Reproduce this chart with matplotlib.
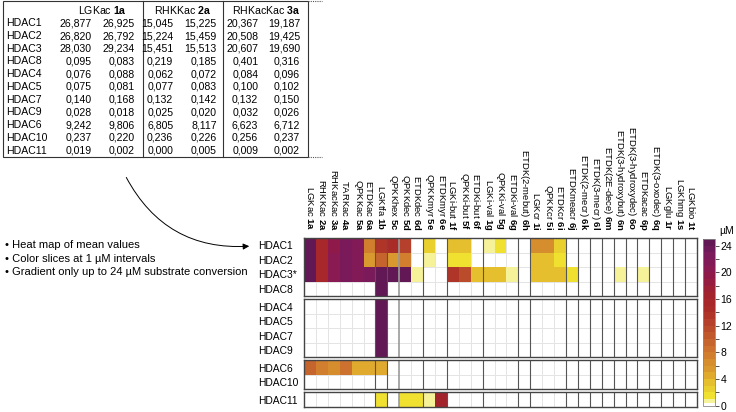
import numpy as np
import matplotlib.pyplot as plt
from matplotlib.colors import ListedColormap, BoundaryNorm, LinearSegmentedColormap
from matplotlib.patches import Rectangle, FancyArrowPatch
from matplotlib.cm import ScalarMappable
from matplotlib.ticker import FixedLocator

plt.rcParams['font.family'] = ['Liberation Sans', 'DejaVu Sans']
plt.rcParams['mathtext.fontset'] = 'custom'
plt.rcParams['mathtext.rm'] = 'Liberation Sans'
plt.rcParams['mathtext.bf'] = 'Liberation Sans:bold'

# ---- table data (duplicate measurements, uM) ----
table_enzymes = ['HDAC1', 'HDAC2', 'HDAC3', 'HDAC8', 'HDAC4', 'HDAC5',
                 'HDAC7', 'HDAC9', 'HDAC6', 'HDAC10', 'HDAC11']
table_headers = ['LGKac $\\mathbf{1a}$', 'RHKKac $\\mathbf{2a}$', 'RHKacKac $\\mathbf{3a}$']
conv_1a = [(26.877, 26.925), (26.820, 26.792), (28.030, 29.234), (0.095, 0.083),
           (0.076, 0.088), (0.075, 0.081), (0.140, 0.168), (0.028, 0.018),
           (9.242, 9.806), (0.237, 0.220), (0.019, 0.002)]
conv_2a = [(15.045, 15.225), (15.224, 15.459), (15.451, 15.513), (0.219, 0.185),
           (0.062, 0.072), (0.077, 0.083), (0.132, 0.142), (0.025, 0.020),
           (6.805, 8.117), (0.236, 0.226), (0.000, 0.005)]
conv_3a = [(20.367, 19.187), (20.508, 19.425), (20.607, 19.690), (0.401, 0.316),
           (0.084, 0.096), (0.100, 0.102), (0.132, 0.150), (0.032, 0.026),
           (6.623, 6.712), (0.256, 0.237), (0.009, 0.002)]

# ---- heat map data (mean conversion, uM) ----
substrates = ['LGKac 1a', 'RHKKac 2a', 'RHKacKac 3a', 'TARKac 4a', 'QPKKac 5a', 'ETDKac 6a',
              'LGKtfa 1b', 'QPKKhex 5c', 'QPKKdec 5d', 'ETDKdec 6d', 'QPKKmyr 5e', 'ETDKmyr 6e',
              'LGKi-but 1f', 'QPKKi-but 5f', 'ETDKi-but 6f', 'LGKi-val 1g', 'QPKKi-val 5g',
              'ETDKi-val 6g', 'ETDK(2-mebut) 6h', 'LGKcr 1i', 'QPKKcr 5i', 'ETDKcr 6i',
              'ETDKmeacr 6j', 'ETDK(2-mecr) 6k', 'ETDK(3-mecr) 6l', 'ETDK(2E-dece) 6m',
              'ETDK(3-hydroxybut) 6n', 'ETDK(3-hydroxydec) 6o', 'ETDKacac 6p',
              'ETDK(3-oxodec) 6q', 'LGKglu 1r', 'LGKhmg 1s', 'LGKbio 1t']

class1_names = ['HDAC1', 'HDAC2', 'HDAC3*', 'HDAC8']
class1_values = [
    [26.9, 15.1, 19.8, 22.5, 21.0, 7.5, 13.5, 14.0, 12.5, 0, 2.5, 0, 3.0, 3.0, 0, 0.7, 1.5, 0,
     0, 6.0, 6.0, 2.5, 0, 0, 0, 0, 0, 0, 0, 0, 0, 0, 0],
    [26.8, 15.3, 20.0, 22.5, 21.0, 5.0, 9.5, 5.0, 7.0, 0, 0.7, 0, 1.5, 1.5, 0, 0, 0, 0,
     0, 3.0, 3.0, 1.5, 0, 0, 0, 0, 0, 0, 0, 0, 0, 0, 0],
    [28.6, 15.5, 20.1, 22.5, 21.0, 22.5, 25.5, 25.5, 24.0, 0.7, 0, 0, 13.5, 11.0, 3.5, 3.5, 3.5, 0.7,
     0, 3.0, 3.0, 3.0, 1.5, 0, 0, 0, 0.7, 0, 0.7, 0, 0, 0, 0],
    [0.09, 0.2, 0.36, 0, 0, 0, 25.5, 0, 0, 0, 0, 0, 0, 0, 0, 0, 0, 0,
     0, 0, 0, 0, 0, 0, 0, 0, 0, 0, 0, 0, 0, 0, 0],
]
class2a_names = ['HDAC4', 'HDAC5', 'HDAC7', 'HDAC9']
class2a_values = [
    [0.08, 0.07, 0.09, 0, 0, 0, 24.0] + [0] * 26,
    [0.08, 0.08, 0.10, 0, 0, 0, 24.0] + [0] * 26,
    [0.15, 0.14, 0.14, 0, 0, 0, 24.0] + [0] * 26,
    [0.02, 0.02, 0.03, 0, 0, 0, 24.0] + [0] * 26,
]
class2b_names = ['HDAC6', 'HDAC10']
class2b_values = [
    [9.5, 7.5, 6.7, 8.0, 4.5, 4.0, 4.5] + [0] * 26,
    [0.23, 0.23, 0.25, 0, 0, 0, 0] + [0] * 26,
]
class4_names = ['HDAC11']
class4_values = [
    [0.01, 0.0, 0.01, 0, 0, 0, 1.5, 0, 1.5, 1.5, 0.7, 16.5] + [0] * 21,
]

# separators between substrate groups
dark_edges = [6, 7, 10, 12, 15, 18, 19, 22, 23, 24, 25, 26, 27, 28, 29, 30, 31, 32]
grey_edges = [8]
light_edges = [1, 2, 3, 4, 5, 9, 11, 13, 14, 16, 17, 20, 21]

# ---- colour map: 1 uM slices, white below detection ----
grad = LinearSegmentedColormap.from_list('conv', [
    (0.0, '#f2e830'), (2 / 24, '#e8c82e'), (4 / 24, '#dca02e'), (6 / 24, '#d4862e'),
    (8 / 24, '#c96a2e'), (10 / 24, '#bd522c'), (12 / 24, '#b23a2a'), (14 / 24, '#a82828'),
    (16 / 24, '#a2222f'), (18 / 24, '#921a46'), (20 / 24, '#861a55'), (22 / 24, '#761a5c'),
    (1.0, '#5c1852')])
bounds = [0, 0.4] + list(range(1, 26))
colors = ['#ffffff', '#f6f29a'] + [grad((k - 0.5) / 24) for k in range(1, 25)]
cmap = ListedColormap(colors)
cmap.set_over(colors[-1])
cmap.set_bad((1, 1, 1, 0))
norm = BoundaryNorm(bounds, cmap.N)

W, H = 736, 412
fig = plt.figure(figsize=(W / 100, H / 100), dpi=100)


def px_axes(x0, y0, x1, y1):
    return fig.add_axes([x0 / W, 1 - y1 / H, (x1 - x0) / W, (y1 - y0) / H])


# overlay in pixel coordinates for table, notes and arrow
ov = fig.add_axes([0, 0, 1, 1])
ov.set_xlim(0, W)
ov.set_ylim(H, 0)
ov.axis('off')

# table
narrow = ['Liberation Sans Narrow', 'Liberation Sans', 'DejaVu Sans']
tl, tr, tt, tb = 2.7, 308, 1.0, 156.7
ov.add_patch(Rectangle((tl, tt), tr - tl, tb - tt, fill=False, lw=0.8, ec='#333333'))
for xv in [142.7, 222.7]:
    ov.plot([xv, xv], [tt, tb], color='#333333', lw=0.8)
for yv in [tt, tb]:
    ov.plot([tr, tr + 14], [yv, yv], color='#555555', lw=0.8, ls=(0, (1, 1)))

header_x = [102, 182, 266]
for hx, hd in zip(header_x, table_headers):
    ov.text(hx, 10, hd, ha='center', va='center', fontsize=7.6, family=narrow)

val_right = [91.7, 135, 173.3, 216.7, 258.3, 300]
row_y0, row_dy = 23.3, 12.72
for i, enz in enumerate(table_enzymes):
    y = row_y0 + i * row_dy
    ov.text(6, y, enz, ha='left', va='center', fontsize=7.6, family=narrow)
    vals = list(conv_1a[i]) + list(conv_2a[i]) + list(conv_3a[i])
    for xr, v in zip(val_right, vals):
        ov.text(xr, y, f'{v:.3f}'.replace('.', ','), ha='right', va='center',
                fontsize=7.6, family=narrow)

# notes
notes = ['Heat map of mean values', 'Color slices at 1 µM intervals',
         'Gradient only up to 24 µM substrate conversion']
for k, note in enumerate(notes):
    ov.text(5, 245 + k * 13.5, '\u2022 ' + note, ha='left', va='center', fontsize=8.0)

arrow = FancyArrowPatch(posA=(125, 175), posB=(252, 246), connectionstyle='arc3,rad=0.33',
                        arrowstyle='-|>', mutation_scale=9, lw=0.7, color='black')
ov.add_patch(arrow)

# heat map groups
groups = [
    (class1_names, class1_values, 238.0, 296.0),
    (class2a_names, class2a_values, 299.3, 357.3),
    (class2b_names, class2b_values, 360.3, 389.3),
    (class4_names, class4_values, 392.3, 406.8),
]
hx0, hx1 = 304, 697
n_sub = len(substrates)
for gi, (names, values, y0, y1) in enumerate(groups):
    ax = px_axes(hx0, y0, hx1, y1)
    n_rows = len(names)
    data = np.ma.masked_less(np.array(values, dtype=float), 0.4)
    for e in light_edges:
        ax.axvline(e, color='#e4e4e4', lw=0.7, zorder=0.5)
    for r in range(1, n_rows):
        ax.axhline(r, color='#e4e4e4', lw=0.7, zorder=0.5)
    ax.pcolormesh(np.arange(n_sub + 1), np.arange(n_rows + 1), data,
                  cmap=cmap, norm=norm, edgecolors='none', zorder=1)
    for e in dark_edges:
        ax.axvline(e, color='#555555', lw=0.8, zorder=2)
    for e in grey_edges:
        ax.axvline(e, color='#9a9a9a', lw=1.2, zorder=2)
    ax.set_xlim(0, n_sub)
    ax.set_ylim(n_rows, 0)
    for sp in ax.spines.values():
        sp.set_color('#444444')
        sp.set_linewidth(1.0)
    ax.set_yticks(np.arange(n_rows) + 0.5)
    ax.set_yticklabels(names, fontsize=7.4, ha='left')
    ax.tick_params(axis='y', length=0, pad=33)
    if gi == 0:
        ax.xaxis.set_ticks_position('top')
        ax.set_xticks(np.arange(n_sub) + 0.5)
        labels = []
        for s in substrates:
            name, sid = s.rsplit(' ', 1)
            labels.append(name + ' $\\mathbf{' + sid + '}$')
        ax.set_xticklabels(labels, rotation=270, fontsize=6.8)
        ax.tick_params(axis='x', length=0, pad=5.5)
    else:
        ax.set_xticks([])

# colour bar
cax = px_axes(702.7, 239, 715, 405.7)
sm = ScalarMappable(norm=norm, cmap=cmap)
cb = fig.colorbar(sm, cax=cax, ticks=list(range(0, 25, 4)), spacing='proportional')
cb.outline.set_edgecolor('#888888')
cb.outline.set_linewidth(0.6)
cax.yaxis.set_minor_locator(FixedLocator(list(range(2, 24, 4))))
cax.tick_params(which='both', length=3, width=0.6, labelsize=7.5, pad=1, color='#333333')
ov.text(727, 231, 'µM', ha='center', va='center', fontsize=7.5)

fig.savefig('out.png', dpi=100)
